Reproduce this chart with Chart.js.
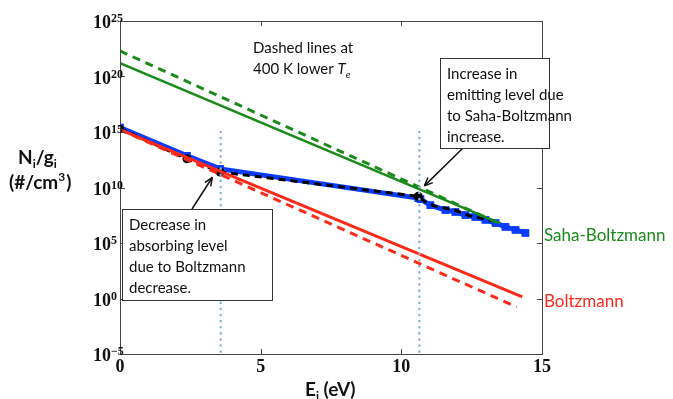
<!DOCTYPE html>
<html>
<head>
<meta charset="utf-8">
<script src="https://cdn.jsdelivr.net/npm/chart.js@4.4.0/dist/chart.umd.min.js"></script>
<style>
  html, body { margin: 0; padding: 0; background: #fff; }
  #wrap { width: 673px; height: 399px; }
</style>
</head>
<body>
<div id="wrap"><canvas id="myChart" width="673" height="399"></canvas></div>
<script>
// energies in eV, populations N_i/g_i in #/cm^3
const sahaE = [0, 13.5]
const sahaSolid = [1.6e21, 6.3e6]
const sahaDashedE = [0, 13.4]
const sahaDashed = [2.0e22, 7.0e6]
const boltzE = [0, 14.3]
const boltzSolid = [1.6e15, 1.4e0]
const boltzDashedE = [0, 14.1]
const boltzDashed = [1.6e15, 1.7e-1]
const measE = [0, 2.38, 3.56, 10.6, 10.68, 11.03, 11.57, 11.92, 12.28, 12.63, 12.99, 13.35, 13.7, 14.06, 14.41]
const measN = [2.5e15, 7e12, 4.7e11, 1.1e9, 9e8, 2.6e8, 9.3e7, 6.2e7, 3.3e7, 2.2e7, 1.2e7, 6.3e6, 2.8e6, 1.5e6, 8e5]
const lowTE = [0, 2.38, 3.56, 10.6, 10.85, 11.2, 11.9, 12.45, 13.0, 13.2]
const lowTN = [2.0e15, 3.8e12, 2.5e11, 1.6e9, 5e8, 2.1e8, 9.3e7, 2.7e7, 1.4e7, 1.0e7]
const levelE = [3.58, 10.64]
const xTicks = [0, 5, 10, 15]
const yExps = [-5, 0, 5, 10, 15, 20, 25]

const toXY = (xs, ys) => xs.map((x, i) => ({ x: x, y: ys[i] }))

const serif = '"Liberation Serif", "DejaVu Serif", serif'
const sans = 'Lato, "Open Sans", sans-serif'

function arrow(ctx, x1, y1, x2, y2) {
  ctx.beginPath()
  ctx.moveTo(x1, y1)
  ctx.lineTo(x2, y2)
  ctx.stroke()
  let a = Math.atan2(y2 - y1, x2 - x1)
  ctx.beginPath()
  ctx.moveTo(x2, y2)
  ctx.lineTo(x2 - 9 * Math.cos(a - 0.4), y2 - 9 * Math.sin(a - 0.4))
  ctx.moveTo(x2, y2)
  ctx.lineTo(x2 - 9 * Math.cos(a + 0.4), y2 - 9 * Math.sin(a + 0.4))
  ctx.stroke()
}

function textBox(ctx, x, y, w, h, lines) {
  ctx.fillStyle = '#fff'
  ctx.fillRect(x, y, w, h)
  ctx.strokeStyle = '#333'
  ctx.lineWidth = 1
  ctx.strokeRect(x + 0.5, y + 0.5, w, h)
  ctx.fillStyle = '#111'
  ctx.font = '15px ' + sans
  ctx.textAlign = 'left'
  ctx.textBaseline = 'middle'
  lines.forEach((t, i) => ctx.fillText(t, x + 7, y + 16 + i * 21))
}

const decor = {
  id: 'decor',
  afterDraw(chart) {
    const ctx = chart.ctx
    const a = chart.chartArea
    const xs = chart.scales.x, ys = chart.scales.y
    ctx.save()
    // box + inward ticks
    ctx.strokeStyle = '#444'
    ctx.lineWidth = 1
    ctx.strokeRect(Math.round(a.left) + 0.5, Math.round(a.top) + 0.5, Math.round(a.right - a.left), Math.round(a.bottom - a.top))
    ctx.beginPath()
    xTicks.forEach(v => {
      let px = Math.round(xs.getPixelForValue(v)) + 0.5
      ctx.moveTo(px, a.bottom); ctx.lineTo(px, a.bottom - 5)
      ctx.moveTo(px, a.top); ctx.lineTo(px, a.top + 5)
    })
    yExps.forEach(e => {
      let py = Math.round(ys.getPixelForValue(Math.pow(10, e))) + 0.5
      ctx.moveTo(a.left, py); ctx.lineTo(a.left + 5, py)
      ctx.moveTo(a.right, py); ctx.lineTo(a.right - 5, py)
    })
    ctx.stroke()

    // tick labels
    ctx.fillStyle = '#111'
    ctx.textBaseline = 'alphabetic'
    ctx.font = 'bold 18px ' + serif
    ctx.textAlign = 'center'
    xTicks.forEach(v => ctx.fillText(String(v), xs.getPixelForValue(v), a.bottom + 18))
    yExps.forEach(e => {
      let py = ys.getPixelForValue(Math.pow(10, e))
      ctx.textAlign = 'left'
      ctx.font = 'bold 18px ' + serif
      ctx.fillText('10', 93, py + 7)
      let w = ctx.measureText('10').width
      ctx.font = 'bold 12px ' + serif
      ctx.fillText(e < 0 ? '\u2212' + (-e) : String(e), 93 + w, py + 1)
    })

    // axis titles
    ctx.font = 'bold 19px ' + sans
    ctx.textAlign = 'left'
    let nx = 18
    ctx.fillText('N', nx, 164)
    nx += ctx.measureText('N').width
    ctx.font = 'bold 12px ' + sans
    ctx.fillText('i', nx, 168)
    nx += ctx.measureText('i').width
    ctx.font = 'bold 19px ' + sans
    ctx.fillText('/g', nx, 164)
    nx += ctx.measureText('/g').width
    ctx.font = 'bold 12px ' + sans
    ctx.fillText('i', nx, 168)
    ctx.font = 'bold 19px ' + sans
    ctx.fillText('(#/cm', 9, 189)
    let cx = 9 + ctx.measureText('(#/cm').width
    ctx.font = 'bold 12px ' + sans
    ctx.fillText('3', cx, 181)
    cx += ctx.measureText('3').width
    ctx.font = 'bold 19px ' + sans
    ctx.fillText(')', cx + 1, 189)

    ctx.font = 'bold 19px ' + sans
    let ex = 305
    ctx.fillText('E', ex, 396)
    ex += ctx.measureText('E').width
    ctx.font = 'bold 12px ' + sans
    ctx.fillText('i', ex, 400)
    ex += ctx.measureText('i').width
    ctx.font = 'bold 19px ' + sans
    ctx.fillText(' (eV)', ex, 396)

    // note at top
    ctx.font = '15px ' + sans
    ctx.textAlign = 'left'
    ctx.fillText('Dashed lines at', 253, 53)
    ctx.fillText('400 K lower ', 253, 74)
    let tx = 253 + ctx.measureText('400 K lower ').width
    ctx.font = 'italic 15px ' + sans
    ctx.fillText('T', tx, 74)
    tx += ctx.measureText('T').width
    ctx.font = 'italic 10px ' + sans
    ctx.fillText('e', tx, 78)

    // series labels
    ctx.font = '17px ' + sans
    ctx.fillStyle = '#1a8a1a'
    ctx.textBaseline = 'middle'
    ctx.fillText('Saha-Boltzmann', 544, 236)
    ctx.fillStyle = '#ff2a1a'
    ctx.fillText('Boltzmann', 544, 302)

    // annotation boxes and arrows
    ctx.strokeStyle = '#111'
    ctx.lineWidth = 1.5
    arrow(ctx, 192, 209, xs.getPixelForValue(3.28), ys.getPixelForValue(8e10))
    arrow(ctx, 463, 148, xs.getPixelForValue(10.82), ys.getPixelForValue(1.4e10))
    textBox(ctx, 122, 209, 150, 91, ['Decrease in', 'absorbing level', 'due to Boltzmann', 'decrease.'])
    textBox(ctx, 440, 58, 109, 90, ['Increase in', 'emitting level due', 'to Saha-Boltzmann', 'increase.'])
    ctx.restore()
  }
}

const green = '#1a8a1a'
const red = '#ff2a1a'
const blue = '#0a3cff'

new Chart(document.getElementById('myChart'), {
  type: 'line',
  data: {
    datasets: [
      { data: toXY([levelE[0], levelE[0]], [1e15, 1e-5]), borderColor: '#8fb0dc', borderWidth: 2.5, borderDash: [0.1, 6], borderCapStyle: 'round', pointRadius: 0 },
      { data: toXY([levelE[1], levelE[1]], [1e15, 1e-5]), borderColor: '#8fb0dc', borderWidth: 2.5, borderDash: [0.1, 6], borderCapStyle: 'round', pointRadius: 0 },
      { data: toXY(sahaDashedE, sahaDashed), borderColor: green, borderWidth: 3, borderDash: [8, 6], pointRadius: 0 },
      { data: toXY(sahaE, sahaSolid), borderColor: green, borderWidth: 2.5, pointRadius: 0 },
      { data: toXY(boltzDashedE, boltzDashed), borderColor: red, borderWidth: 3, borderDash: [8, 6], pointRadius: 0 },
      { data: toXY(boltzE, boltzSolid), borderColor: red, borderWidth: 3, pointRadius: 0 },
      { data: toXY(lowTE, lowTN), borderColor: '#000', borderWidth: 3, borderDash: [7, 5], pointRadius: [4, 4.5, 4.5, 4.5, 0, 0, 0, 0, 0, 0], pointBackgroundColor: '#000', pointBorderWidth: 0 },
      { data: toXY(measE, measN), borderColor: blue, borderWidth: 5, pointStyle: 'rect', pointRadius: 5.5, pointBackgroundColor: blue, pointBorderColor: blue, pointBorderWidth: 0 }
    ]
  },
  options: {
    responsive: false,
    animation: false,
    devicePixelRatio: 1,
    layout: { padding: { left: 120, right: 131, top: 21, bottom: 45 } },
    plugins: { legend: { display: false }, tooltip: { enabled: false } },
    elements: { line: { tension: 0, fill: false } },
    scales: {
      x: { type: 'linear', min: 0, max: 15, display: false },
      y: { type: 'logarithmic', min: 1e-5, max: 1e25, display: false }
    }
  },
  plugins: [decor]
})
</script>
</body>
</html>
